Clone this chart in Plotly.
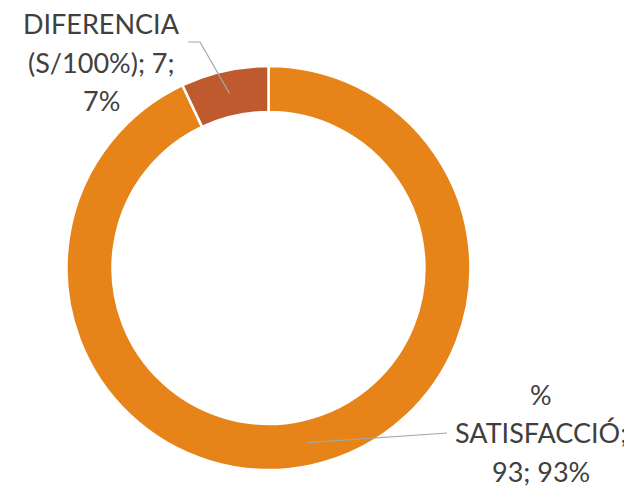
import math
import plotly.graph_objects as go

categories = ["% SATISFACCIÓ", "DIFERENCIA (S/100%)"]
values = [93, 7]
label_lines = [["%", "SATISFACCIÓ;", "93; 93%"], ["DIFERENCIA", "(S/100%); 7;", "7%"]]
colors = ["#E6841A", "#BE5A2E"]

OFF = 8  # page body margin
W, H = 624, 480
cx, cy, R = 268.5 - OFF, 268 - OFF, 202
hole = 0.772

fig = go.Figure(go.Pie(
    labels=categories, values=values, sort=False, direction="clockwise", rotation=0,
    hole=hole, textinfo="none", hoverinfo="label+value+percent",
    marker=dict(colors=colors, line=dict(color="white", width=2.5)),
    domain=dict(x=[(cx - R) / W, (cx + R) / W], y=[(H - cy - R) / H, (H - cy + R) / H]),
    showlegend=False,
))

def px2paper(x, y):
    # x, y given in page pixels
    return (x - OFF) / W, 1 - (y - OFF) / H

total = sum(values)
rmid = R * (1 + hole) / 2
anchors = []
start = 0.0
for v in values:
    mid = start + v / total * 360 / 2
    a = math.radians(mid)
    anchors.append((cx + OFF + rmid * math.sin(a), cy + OFF - rmid * math.cos(a)))
    start += v / total * 360

label_x = [541, 101]
label_y0 = [394, 24]
line_gap = 38.5
elbows = [[(447, 433)], [(200, 42), (188, 42)]]

font = dict(family="Lato, Open Sans, sans-serif", size=27, color="#404040")
shapes = []
annotations = []
for i in range(len(values)):
    pts = [anchors[i]] + elbows[i]
    path = ""
    for j, (x, y) in enumerate(pts):
        px, py = px2paper(x, y)
        path += ("M" if j == 0 else "L") + f"{px},{py} "
    shapes.append(dict(type="path", xref="paper", yref="paper", path=path.strip(),
                       line=dict(color="#A6A6A6", width=1.2)))
    for k, line in enumerate(label_lines[i]):
        lx, ly = px2paper(label_x[i], label_y0[i] + k * line_gap)
        annotations.append(dict(text=line, x=lx, y=ly, xref="paper", yref="paper",
                                xanchor="center", yanchor="middle", showarrow=False,
                                align="center", font=font))

fig.update_layout(width=W, height=H, margin=dict(l=0, r=0, t=0, b=0),
                  paper_bgcolor="white", plot_bgcolor="white",
                  shapes=shapes, annotations=annotations)
fig.write_html("out.html")
